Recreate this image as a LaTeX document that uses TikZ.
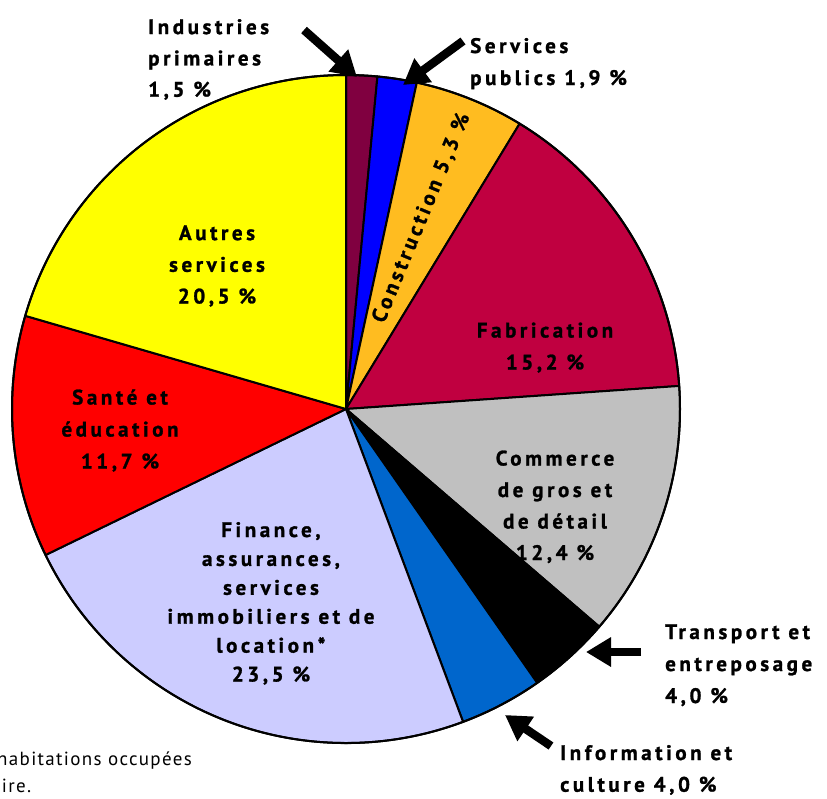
\documentclass[tikz,border=0pt]{standalone}
\usepackage{fontspec}
\setmainfont{PT Sans}
\newfontfamily\lblfont[LetterSpace=17,BoldFeatures={FakeBold=1.2}]{PT Sans}
\newfontfamily\notefont[LetterSpace=7]{PT Sans}
\usetikzlibrary{arrows.meta}
\definecolor{cPrim}{RGB}{128,0,64}
\definecolor{cPub}{RGB}{0,0,255}
\definecolor{cCons}{RGB}{255,188,32}
\definecolor{cFab}{RGB}{192,0,64}
\definecolor{cCom}{RGB}{192,192,192}
\definecolor{cTra}{RGB}{0,0,0}
\definecolor{cInf}{RGB}{0,102,204}
\definecolor{cFin}{RGB}{204,204,255}
\definecolor{cSan}{RGB}{255,0,0}
\definecolor{cAut}{RGB}{255,255,0}
\newcommand\pieslice[3]{%
  \filldraw[slicestyle,fill=#3] (O) -- ++({-90+3.6*#1}:\pieR)
    arc[start angle={-90+3.6*#1}, end angle={-90+3.6*#2}, radius=\pieR] -- cycle;}
\newcommand\lblsize[1]{\lblfont\bfseries\fontsize{21}{#1}\selectfont}
\begin{document}
\begin{tikzpicture}[x=1pt,y=-1pt,
  slicestyle/.style={draw=black,line width=2pt,line join=round},
  lbl/.style={font=\lblsize{31.7},inner sep=0pt,anchor=base,align=center},
  lblleft/.style={lbl,align=left,anchor=base west},
  fatarrow/.style={line width=8.5pt,-{Triangle[width=28pt,length=25pt]}},
  note/.style={font=\notefont\fontsize{19}{27}\selectfont,inner sep=0pt,anchor=base west}]
\useasboundingbox (0,0) rectangle (827,798);
\fill[white] (0,0) rectangle (827,798);
\coordinate (O) at (346,409);
\def\pieR{334}
\pieslice{0}{1.5}{cPrim}
\pieslice{1.5}{3.4}{cPub}
\pieslice{3.4}{8.7}{cCons}
\pieslice{8.7}{23.9}{cFab}
\pieslice{23.9}{36.3}{cCom}
\pieslice{36.3}{40.3}{cTra}
\pieslice{40.3}{44.3}{cInf}
\pieslice{44.3}{67.8}{cFin}
\pieslice{67.8}{79.5}{cSan}
\pieslice{79.5}{100}{cAut}
\draw[line width=2pt] (O) circle[radius=\pieR];

\node[lbl] (autres) at (217,303.5) {Autres\\services\\20,5 \%};
\node[lbl,font=\lblsize{32}] (fab) at (545,369.5) {Fabrication\\15,2 \%};
\node[lbl,font=\lblsize{32}] (sante) at (120,468.5) {Santé et\\éducation\\11,7 \%};
\node[lbl,font=\lblsize{31.5}] (com) at (555,560) {Commerce\\de gros et\\de détail\\12,4 \%};
\node[lbl,font=\lblsize{28.9}] (fin) at (271,681.5) {Finance,\\assurances,\\services\\immobiliers et de\\location*\\23,5 \%};
\node[lbl,anchor=center,rotate=67.5] (cons) at (421.5,218) {Construction 5,3 \%};

\node[lblleft,font=\lblsize{31.3}] (prim) at (148,96.7) {Industries\\primaires\\1,5 \%};
\node[lblleft,font=\lblsize{32}] (pub) at (470,85) {Services\\publics 1,9 \%};
\node[lblleft,font=\lblsize{32}] (tra) at (665,703) {Transport et\\entreposage\\4,0 \%};
\node[lblleft] (inf) at (560,791.7) {Information et\\culture 4,0 \%};

\coordinate (primT) at (304,30);
\coordinate (primH) at (357,77);
\coordinate (pubT) at (463,41);
\coordinate (pubH) at (403,85);
\coordinate (traT) at (641,652);
\coordinate (traH) at (586,652);
\coordinate (infT) at (551,746);
\coordinate (infH) at (505,715);
\draw[fatarrow] (primT) -- (primH);
\draw[fatarrow] (pubT) -- (pubH);
\draw[fatarrow] (traT) -- (traH);
\draw[fatarrow] (infT) -- (infH);

\node[note] (note1) at (-3,765) {habitations occupées};
\node[note] (note2) at (-9,792) {aire.};
\end{tikzpicture}
\end{document}
